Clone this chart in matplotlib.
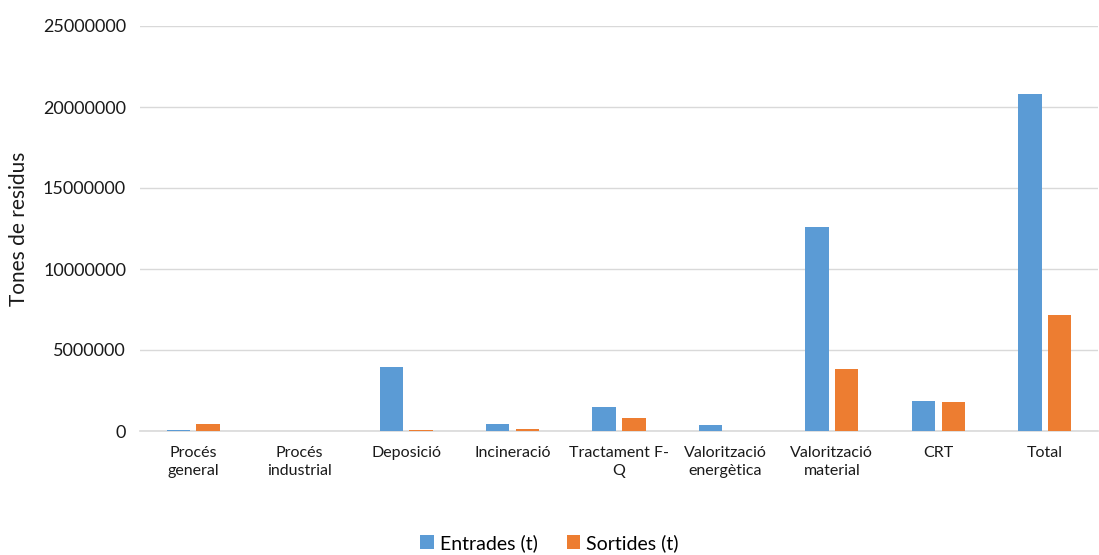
import numpy as np
import matplotlib.pyplot as plt

categories = ['Procés\ngeneral', 'Procés\nindustrial', 'Deposició', 'Incineració',
              'Tractament F-\nQ', 'Valorització\nenergètica', 'Valorització\nmaterial',
              'CRT', 'Total']
entrades = [50000, 5000, 3970000, 430000, 1500000, 400000, 12600000, 1850000, 20800000]
sortides = [430000, 5000, 60000, 150000, 820000, 30000, 3850000, 1780000, 7150000]

plt.rcParams['font.family'] = ['Lato', 'DejaVu Sans']

fig = plt.figure(figsize=(10.99, 5.55), dpi=100)
ax = fig.add_axes([140 / 1099, 1 - 431 / 555, 958 / 1099, 405 / 555])

x = np.arange(len(categories))
w = 0.22
ax.bar(x - 0.14, entrades, w, color='#5B9BD5', label='Entrades (t)', zorder=3)
ax.bar(x + 0.14, sortides, w, color='#ED7D31', label='Sortides (t)', zorder=3)

ax.set_xlim(-0.5, len(categories) - 0.5)
ax.set_ylim(0, 25000000)
ax.set_yticks(np.arange(0, 25000001, 5000000))
ax.set_yticklabels([str(v) for v in range(0, 25000001, 5000000)], fontsize=13, color='#1a1a1a')
ax.set_xticks(x)
ax.set_xticklabels(categories, fontsize=11.5, color='#1a1a1a', linespacing=1.35)
ax.tick_params(length=0)
ax.tick_params(axis='x', pad=11)
ax.tick_params(axis='y', pad=10)

ax.grid(axis='y', color='#D9D9D9', linewidth=1, zorder=0)
for s in ['top', 'right', 'left']:
    ax.spines[s].set_visible(False)
ax.spines['bottom'].set_color('#D9D9D9')
ax.spines['bottom'].set_linewidth(1.2)

ax.set_ylabel('Tones de residus', fontsize=15, color='#1a1a1a', labelpad=10)

fig.legend(loc='center', bbox_to_anchor=(0.5, 1 - 543 / 555), ncol=2, frameon=False,
           fontsize=14, handlelength=0.7, handleheight=0.7, handletextpad=0.3,
           columnspacing=1.5)

fig.savefig('out.png', dpi=100)
